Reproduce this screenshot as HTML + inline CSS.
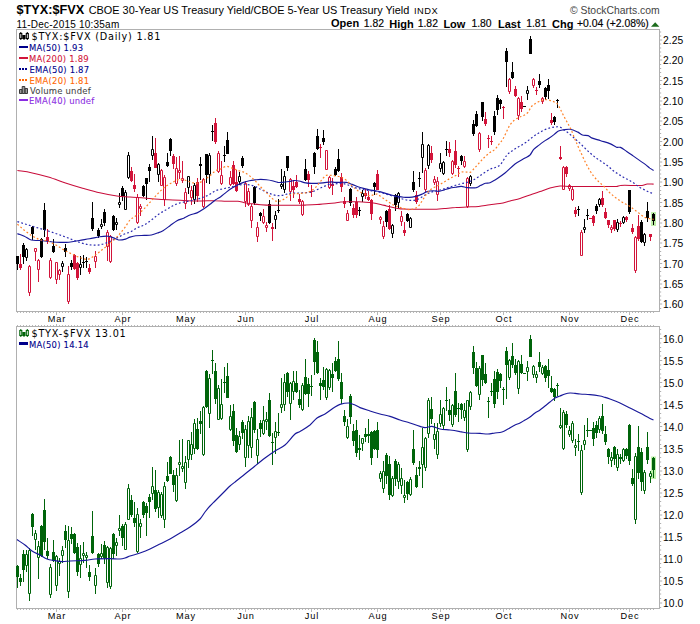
<!DOCTYPE html>
<html><head><meta charset="utf-8"><title>$TYX:$FVX</title>
<style>
html,body{margin:0;padding:0;background:#fff;}
body{width:700px;height:624px;position:relative;overflow:hidden;font-family:"Liberation Sans",sans-serif;color:#000;}
.t{position:absolute;white-space:nowrap;line-height:1;}
.ax{font-size:10.3px;letter-spacing:0.1px;}
.lg{font-family:"DejaVu Sans Condensed","DejaVu Sans",sans-serif;font-size:9.4px;letter-spacing:0.22px;-webkit-text-stroke:0.08px currentColor;}
.mono{font-family:"DejaVu Sans",sans-serif;font-size:9.7px;letter-spacing:0.77px;}
.mo{font-size:9.2px;letter-spacing:0.9px;}
</style></head><body>
<svg width="700" height="624" viewBox="0 0 700 624" style="position:absolute;left:0;top:0">
<rect x="16.5" y="29.5" width="643" height="282" fill="#fff" stroke="#b0b0b0" stroke-width="1"/>
<rect x="16.5" y="326.5" width="643" height="282" fill="#fff" stroke="#b0b0b0" stroke-width="1"/>
<path d="M660 308.5h1.2M660 304h2.2M660 300h1.2M660 296h1.2M660 292h1.2M660 288h1.2M660 284h2.2M660 280h1.2M660 276h1.2M660 271.5h1.2M660 267.5h1.2M660 263.5h2.2M660 259.5h1.2M660 255.5h1.2M660 251.5h1.2M660 247.5h1.2M660 243h2.2M660 239h1.2M660 235h1.2M660 231h1.2M660 227h1.2M660 223h2.2M660 219h1.2M660 215h1.2M660 210.5h1.2M660 206.5h1.2M660 202.5h2.2M660 198.5h1.2M660 194.5h1.2M660 190.5h1.2M660 186.5h1.2M660 182h2.2M660 178h1.2M660 174h1.2M660 170h1.2M660 166h1.2M660 162h2.2M660 158h1.2M660 154h1.2M660 149.5h1.2M660 145.5h1.2M660 141.5h2.2M660 137.5h1.2M660 133.5h1.2M660 129.5h1.2M660 125.5h1.2M660 121h2.2M660 117h1.2M660 113h1.2M660 109h1.2M660 105h1.2M660 101h2.2M660 97h1.2M660 93h1.2M660 88.5h1.2M660 84.5h1.2M660 80.5h2.2M660 76.5h1.2M660 72.5h1.2M660 68.5h1.2M660 64.5h1.2M660 60h2.2M660 56h1.2M660 52h1.2M660 48h1.2M660 44h1.2M660 40h2.2M660 36h1.2M660 32h1.2M660 607.5h1.2M660 603h2.2M660 598.5h1.2M660 594h1.2M660 590h1.2M660 585.5h1.2M660 581h2.2M660 576.5h1.2M660 572h1.2M660 567.5h1.2M660 563.5h1.2M660 559h2.2M660 554.5h1.2M660 550h1.2M660 545.5h1.2M660 541.5h1.2M660 537h2.2M660 532.5h1.2M660 528h1.2M660 523.5h1.2M660 519h1.2M660 515h2.2M660 510.5h1.2M660 506h1.2M660 501.5h1.2M660 497h1.2M660 493h2.2M660 488.5h1.2M660 484h1.2M660 479.5h1.2M660 475h1.2M660 471h2.2M660 466.5h1.2M660 462h1.2M660 457.5h1.2M660 453h1.2M660 448.5h2.2M660 444.5h1.2M660 440h1.2M660 435.5h1.2M660 431h1.2M660 426.5h2.2M660 422.5h1.2M660 418h1.2M660 413.5h1.2M660 409h1.2M660 404.5h2.2M660 400h1.2M660 396h1.2M660 391.5h1.2M660 387h1.2M660 382.5h2.2M660 378h1.2M660 374h1.2M660 369.5h1.2M660 365h1.2M660 360.5h2.2M660 356h1.2M660 351.5h1.2M660 347.5h1.2M660 343h1.2M660 338.5h2.2M660 334h1.2M660 329.5h1.2" stroke="#b0b0b0" stroke-width="1" fill="none"/>
<path d="M17.5 312v1M20.5 312v1M23.5 312v1M26.5 312v1M29.5 312v1M32.5 312v1M35.5 312v1M38.5 312v1M41.5 312v1M44.5 312v1M47.5 312v1M50.5 312v1M53.5 312v1M56.5 312v3M59.5 312v1M62.5 312v1M65.5 312v1M68.5 312v1M71.5 312v1M74.5 312v1M77.5 312v1M80.5 312v1M83.5 312v1M86.5 312v1M89.5 312v1M92.5 312v1M95.5 312v1M98.5 312v1M101.5 312v1M104.5 312v1M107.5 312v1M110.5 312v1M113.5 312v1M116.5 312v1M119.5 312v1M122.5 312v3M125.5 312v1M128.5 312v1M131.5 312v1M134.5 312v1M137.5 312v1M140.5 312v1M143.5 312v1M146.5 312v1M149.5 312v1M152.5 312v1M155.5 312v1M158.5 312v1M161.5 312v1M164.5 312v1M167.5 312v1M170.5 312v1M173.5 312v1M176.5 312v1M179.5 312v1M182.5 312v1M185.5 312v3M188.5 312v1M191.5 312v1M194.5 312v1M197.5 312v1M200.5 312v1M203.5 312v1M206.5 312v1M209.5 312v1M212.5 312v1M215.5 312v1M218.5 312v1M221.5 312v1M224.5 312v1M227.5 312v1M230.5 312v1M233.5 312v1M236.5 312v1M239.5 312v1M242.5 312v1M245.5 312v3M248.5 312v1M251.5 312v1M254.5 312v1M257.5 312v1M260.5 312v1M263.5 312v1M266.5 312v1M269.5 312v1M272.5 312v1M275.5 312v1M278.5 312v1M281.5 312v1M284.5 312v1M287.5 312v1M290.5 312v1M293.5 312v1M296.5 312v1M299.5 312v1M302.5 312v1M305.5 312v1M308.5 312v1M311.5 312v3M314.5 312v1M317.5 312v1M320.5 312v1M323.5 312v1M326.5 312v1M329.5 312v1M332.5 312v1M335.5 312v1M338.5 312v1M341.5 312v1M344.5 312v1M347.5 312v1M350.5 312v1M353.5 312v1M356.5 312v1M359.5 312v1M362.5 312v1M365.5 312v1M368.5 312v1M371.5 312v1M374.5 312v1M377.5 312v3M380.5 312v1M383.5 312v1M386.5 312v1M389.5 312v1M392.5 312v1M395.5 312v1M398.5 312v1M401.5 312v1M404.5 312v1M407.5 312v1M410.5 312v1M413.5 312v1M416.5 312v1M419.5 312v1M422.5 312v1M425.5 312v1M428.5 312v1M431.5 312v1M434.5 312v1M437.5 312v1M440.5 312v3M443.5 312v1M446.5 312v1M449.5 312v1M452.5 312v1M455.5 312v1M458.5 312v1M461.5 312v1M464.5 312v1M467.5 312v1M470.5 312v1M473.5 312v1M476.5 312v1M479.5 312v1M482.5 312v1M485.5 312v1M488.5 312v1M491.5 312v1M494.5 312v1M497.5 312v1M500.5 312v1M503.5 312v3M506.5 312v1M509.5 312v1M512.5 312v1M515.5 312v1M518.5 312v1M521.5 312v1M524.5 312v1M527.5 312v1M530.5 312v1M533.5 312v1M536.5 312v1M539.5 312v1M542.5 312v1M545.5 312v1M548.5 312v1M551.5 312v1M554.5 312v1M557.5 312v1M560.5 312v1M563.5 312v1M566.5 312v1M569.5 312v3M572.5 312v1M575.5 312v1M578.5 312v1M581.5 312v1M584.5 312v1M587.5 312v1M590.5 312v1M593.5 312v1M596.5 312v1M599.5 312v1M602.5 312v1M605.5 312v1M608.5 312v1M611.5 312v1M614.5 312v1M617.5 312v1M620.5 312v1M623.5 312v1M626.5 312v1M629.5 312v3M632.5 312v1M635.5 312v1M638.5 312v1M641.5 312v1M644.5 312v1M647.5 312v1M650.5 312v1M653.5 312v1M17.5 609v1M17.5 326v-1M20.5 609v1M20.5 326v-1M23.5 609v1M23.5 326v-1M26.5 609v1M26.5 326v-1M29.5 609v1M29.5 326v-1M32.5 609v1M32.5 326v-1M35.5 609v1M35.5 326v-1M38.5 609v1M38.5 326v-1M41.5 609v1M41.5 326v-1M44.5 609v1M44.5 326v-1M47.5 609v1M47.5 326v-1M50.5 609v1M50.5 326v-1M53.5 609v1M53.5 326v-1M56.5 609v3M56.5 326v-2M59.5 609v1M59.5 326v-1M62.5 609v1M62.5 326v-1M65.5 609v1M65.5 326v-1M68.5 609v1M68.5 326v-1M71.5 609v1M71.5 326v-1M74.5 609v1M74.5 326v-1M77.5 609v1M77.5 326v-1M80.5 609v1M80.5 326v-1M83.5 609v1M83.5 326v-1M86.5 609v1M86.5 326v-1M89.5 609v1M89.5 326v-1M92.5 609v1M92.5 326v-1M95.5 609v1M95.5 326v-1M98.5 609v1M98.5 326v-1M101.5 609v1M101.5 326v-1M104.5 609v1M104.5 326v-1M107.5 609v1M107.5 326v-1M110.5 609v1M110.5 326v-1M113.5 609v1M113.5 326v-1M116.5 609v1M116.5 326v-1M119.5 609v1M119.5 326v-1M122.5 609v3M122.5 326v-2M125.5 609v1M125.5 326v-1M128.5 609v1M128.5 326v-1M131.5 609v1M131.5 326v-1M134.5 609v1M134.5 326v-1M137.5 609v1M137.5 326v-1M140.5 609v1M140.5 326v-1M143.5 609v1M143.5 326v-1M146.5 609v1M146.5 326v-1M149.5 609v1M149.5 326v-1M152.5 609v1M152.5 326v-1M155.5 609v1M155.5 326v-1M158.5 609v1M158.5 326v-1M161.5 609v1M161.5 326v-1M164.5 609v1M164.5 326v-1M167.5 609v1M167.5 326v-1M170.5 609v1M170.5 326v-1M173.5 609v1M173.5 326v-1M176.5 609v1M176.5 326v-1M179.5 609v1M179.5 326v-1M182.5 609v1M182.5 326v-1M185.5 609v3M185.5 326v-2M188.5 609v1M188.5 326v-1M191.5 609v1M191.5 326v-1M194.5 609v1M194.5 326v-1M197.5 609v1M197.5 326v-1M200.5 609v1M200.5 326v-1M203.5 609v1M203.5 326v-1M206.5 609v1M206.5 326v-1M209.5 609v1M209.5 326v-1M212.5 609v1M212.5 326v-1M215.5 609v1M215.5 326v-1M218.5 609v1M218.5 326v-1M221.5 609v1M221.5 326v-1M224.5 609v1M224.5 326v-1M227.5 609v1M227.5 326v-1M230.5 609v1M230.5 326v-1M233.5 609v1M233.5 326v-1M236.5 609v1M236.5 326v-1M239.5 609v1M239.5 326v-1M242.5 609v1M242.5 326v-1M245.5 609v3M245.5 326v-2M248.5 609v1M248.5 326v-1M251.5 609v1M251.5 326v-1M254.5 609v1M254.5 326v-1M257.5 609v1M257.5 326v-1M260.5 609v1M260.5 326v-1M263.5 609v1M263.5 326v-1M266.5 609v1M266.5 326v-1M269.5 609v1M269.5 326v-1M272.5 609v1M272.5 326v-1M275.5 609v1M275.5 326v-1M278.5 609v1M278.5 326v-1M281.5 609v1M281.5 326v-1M284.5 609v1M284.5 326v-1M287.5 609v1M287.5 326v-1M290.5 609v1M290.5 326v-1M293.5 609v1M293.5 326v-1M296.5 609v1M296.5 326v-1M299.5 609v1M299.5 326v-1M302.5 609v1M302.5 326v-1M305.5 609v1M305.5 326v-1M308.5 609v1M308.5 326v-1M311.5 609v3M311.5 326v-2M314.5 609v1M314.5 326v-1M317.5 609v1M317.5 326v-1M320.5 609v1M320.5 326v-1M323.5 609v1M323.5 326v-1M326.5 609v1M326.5 326v-1M329.5 609v1M329.5 326v-1M332.5 609v1M332.5 326v-1M335.5 609v1M335.5 326v-1M338.5 609v1M338.5 326v-1M341.5 609v1M341.5 326v-1M344.5 609v1M344.5 326v-1M347.5 609v1M347.5 326v-1M350.5 609v1M350.5 326v-1M353.5 609v1M353.5 326v-1M356.5 609v1M356.5 326v-1M359.5 609v1M359.5 326v-1M362.5 609v1M362.5 326v-1M365.5 609v1M365.5 326v-1M368.5 609v1M368.5 326v-1M371.5 609v1M371.5 326v-1M374.5 609v1M374.5 326v-1M377.5 609v3M377.5 326v-2M380.5 609v1M380.5 326v-1M383.5 609v1M383.5 326v-1M386.5 609v1M386.5 326v-1M389.5 609v1M389.5 326v-1M392.5 609v1M392.5 326v-1M395.5 609v1M395.5 326v-1M398.5 609v1M398.5 326v-1M401.5 609v1M401.5 326v-1M404.5 609v1M404.5 326v-1M407.5 609v1M407.5 326v-1M410.5 609v1M410.5 326v-1M413.5 609v1M413.5 326v-1M416.5 609v1M416.5 326v-1M419.5 609v1M419.5 326v-1M422.5 609v1M422.5 326v-1M425.5 609v1M425.5 326v-1M428.5 609v1M428.5 326v-1M431.5 609v1M431.5 326v-1M434.5 609v1M434.5 326v-1M437.5 609v1M437.5 326v-1M440.5 609v3M440.5 326v-2M443.5 609v1M443.5 326v-1M446.5 609v1M446.5 326v-1M449.5 609v1M449.5 326v-1M452.5 609v1M452.5 326v-1M455.5 609v1M455.5 326v-1M458.5 609v1M458.5 326v-1M461.5 609v1M461.5 326v-1M464.5 609v1M464.5 326v-1M467.5 609v1M467.5 326v-1M470.5 609v1M470.5 326v-1M473.5 609v1M473.5 326v-1M476.5 609v1M476.5 326v-1M479.5 609v1M479.5 326v-1M482.5 609v1M482.5 326v-1M485.5 609v1M485.5 326v-1M488.5 609v1M488.5 326v-1M491.5 609v1M491.5 326v-1M494.5 609v1M494.5 326v-1M497.5 609v1M497.5 326v-1M500.5 609v1M500.5 326v-1M503.5 609v3M503.5 326v-2M506.5 609v1M506.5 326v-1M509.5 609v1M509.5 326v-1M512.5 609v1M512.5 326v-1M515.5 609v1M515.5 326v-1M518.5 609v1M518.5 326v-1M521.5 609v1M521.5 326v-1M524.5 609v1M524.5 326v-1M527.5 609v1M527.5 326v-1M530.5 609v1M530.5 326v-1M533.5 609v1M533.5 326v-1M536.5 609v1M536.5 326v-1M539.5 609v1M539.5 326v-1M542.5 609v1M542.5 326v-1M545.5 609v1M545.5 326v-1M548.5 609v1M548.5 326v-1M551.5 609v1M551.5 326v-1M554.5 609v1M554.5 326v-1M557.5 609v1M557.5 326v-1M560.5 609v1M560.5 326v-1M563.5 609v1M563.5 326v-1M566.5 609v1M566.5 326v-1M569.5 609v3M569.5 326v-2M572.5 609v1M572.5 326v-1M575.5 609v1M575.5 326v-1M578.5 609v1M578.5 326v-1M581.5 609v1M581.5 326v-1M584.5 609v1M584.5 326v-1M587.5 609v1M587.5 326v-1M590.5 609v1M590.5 326v-1M593.5 609v1M593.5 326v-1M596.5 609v1M596.5 326v-1M599.5 609v1M599.5 326v-1M602.5 609v1M602.5 326v-1M605.5 609v1M605.5 326v-1M608.5 609v1M608.5 326v-1M611.5 609v1M611.5 326v-1M614.5 609v1M614.5 326v-1M617.5 609v1M617.5 326v-1M620.5 609v1M620.5 326v-1M623.5 609v1M623.5 326v-1M626.5 609v1M626.5 326v-1M629.5 609v3M629.5 326v-2M632.5 609v1M632.5 326v-1M635.5 609v1M635.5 326v-1M638.5 609v1M638.5 326v-1M641.5 609v1M641.5 326v-1M644.5 609v1M644.5 326v-1M647.5 609v1M647.5 326v-1M650.5 609v1M650.5 326v-1M653.5 609v1M653.5 326v-1" stroke="#b0b0b0" stroke-width="1" fill="none" opacity="0.9"/>
<rect x="651" y="212" width="5" height="14" fill="#bff0aa"/>
<rect x="651" y="456.5" width="5" height="22.5" fill="#bff0aa"/>
<path d="M17.5 256V270M23.5 243V264M26.5 248V249M26.5 258V261M32.5 226V240M41.5 238V258M44.5 203V237M53.5 239V253M62.5 261V263M62.5 267V272M65.5 244V257M71.5 260V270M80.5 256V264M80.5 268V275M83.5 255V268M82 262.5H85M86.5 257V268M85 261.5H88M92.5 202V231M98.5 228V238M101.5 219V224M101.5 227V229M104.5 209V226M113.5 215V231M116.5 218V222M116.5 225V230M119.5 193V202M119.5 205V208M122.5 186V201M125.5 190V192M128.5 152V155M128.5 178V179M143.5 185V197M146.5 178V200M149.5 164V182M152.5 136V149M152.5 156V160M158.5 163V164M158.5 175V182M167.5 153V167M170.5 138V156M188.5 188V194M194.5 183V185M194.5 200V204M200.5 157V180M206.5 154V183M209.5 153V155M209.5 175V184M212.5 125V141M211 131.5H214M224.5 146V162M223 155.5H226M227.5 132V154M239.5 172V176M239.5 182V185M242.5 156V168M254.5 186V205M260.5 212V221M269.5 200V224M275.5 211V215M275.5 220V229M278.5 199V213M277 210.5H280M281.5 169V184M281.5 187V189M284.5 171V176M284.5 190V193M287.5 156V171M305.5 159V181M314.5 152V174M317.5 129V150M323.5 130V145M335.5 167V176M338.5 149V172M350.5 188V206M359.5 207V216M358 210.5H361M362.5 190V193M362.5 197V202M374.5 182V195M386.5 210V227M392.5 224V225M392.5 234V238M395.5 194V211M398.5 192V193M398.5 203V208M407.5 213V222M410.5 217V218M413.5 171V192M419.5 172V187M418 178.5H421M422.5 132V144M422.5 158V173M428.5 144V145M428.5 166V169M440.5 153V163M440.5 169V172M443.5 161V162M443.5 174V175M446.5 141V156M445 149.5H448M461.5 155V165M470.5 175V176M470.5 184V186M473.5 120V136M476.5 111V127M482.5 102V121M494.5 111V135M497.5 95V115M500.5 99V109M506.5 48V87M512.5 62V79M523 106.5H526M527.5 86V90M527.5 94V100M530.5 36V54M539.5 74V88M545.5 87V100M548.5 79V99M554.5 116V125M557.5 99V108M556 100.5H559M578.5 206V216M577 209.5H580M584.5 219V227M584.5 230V233M587.5 209V220M586 215.5H589M596.5 204V214M599.5 198V199M599.5 205V207M617.5 219V222M617.5 230V232M623.5 216V217M623.5 223V224M629.5 190V214M641.5 220V243M644.5 233V234M644.5 243V246M647.5 202V222M653.5 213V225" stroke="#000000" stroke-width="1" fill="none"/>
<path d="M16 256H19V264H16ZM22 245H25V257H22ZM31 227H34V234H31ZM40 239H43V257H40ZM43 210H46V230H43ZM52 246H55V252H52ZM64 248H67V252H64ZM70 263H73V267H70ZM91 218H94V229H91ZM97 230H100V236H97ZM103 212H106V223H103ZM112 216H115V230H112ZM121 188H124V196H121ZM142 186H145V196H142ZM145 178H148V184H145ZM148 167H151V171H148ZM166 162H169V166H166ZM169 139H172V151H169ZM199 164H202V166H199ZM205 154H208V175H205ZM226 140H229V154H226ZM241 158H244V166H241ZM253 187H256V203H253ZM259 213H262V216H259ZM268 204H271V223H268ZM286 156H289V168H286ZM304 169H307V180H304ZM313 153H316V167H313ZM316 136H319V149H316ZM322 138H325V142H322ZM334 169H337V175H334ZM337 159H340V171H337ZM349 189H352V203H349ZM373 183H376V187H373ZM385 211H388V222H385ZM394 195H397V205H394ZM406 214H409V221H406ZM412 182H415V190H412ZM460 156H463V161H460ZM472 124H475V134H472ZM475 114H478V126H475ZM481 102H484V117H481ZM493 116H496V132H493ZM496 98H499V110H496ZM499 100H502V104H499ZM505 51H508V62H505ZM511 72H514V78H511ZM529 39H532V54H529ZM538 81H541V85H538ZM544 88H547V97H544ZM547 85H550V91H547ZM553 117H556V122H553ZM595 206H598V211H595ZM628 190H631V212H628ZM640 222H643V242H640ZM646 211H649V218H646ZM652 214H655V221H652Z" fill="#000000" stroke="none"/>
<path d="M25.5 249.5H27.5V257.5H25.5ZM61.5 263.5H63.5V266.5H61.5ZM79.5 264.5H81.5V267.5H79.5ZM100.5 224.5H102.5V226.5H100.5ZM115.5 222.5H117.5V224.5H115.5ZM118.5 202.5H120.5V204.5H118.5ZM124.5 192.5H126.5V209.5H124.5ZM127.5 155.5H129.5V177.5H127.5ZM151.5 149.5H153.5V155.5H151.5ZM157.5 164.5H159.5V174.5H157.5ZM187.5 176.5H189.5V187.5H187.5ZM193.5 185.5H195.5V199.5H193.5ZM208.5 155.5H210.5V174.5H208.5ZM238.5 176.5H240.5V181.5H238.5ZM274.5 215.5H276.5V219.5H274.5ZM280.5 184.5H282.5V186.5H280.5ZM283.5 176.5H285.5V189.5H283.5ZM361.5 193.5H363.5V196.5H361.5ZM391.5 225.5H393.5V233.5H391.5ZM397.5 193.5H399.5V202.5H397.5ZM409.5 218.5H411.5V227.5H409.5ZM421.5 144.5H423.5V157.5H421.5ZM427.5 145.5H429.5V165.5H427.5ZM439.5 163.5H441.5V168.5H439.5ZM442.5 162.5H444.5V173.5H442.5ZM469.5 176.5H471.5V183.5H469.5ZM526.5 90.5H528.5V93.5H526.5ZM583.5 227.5H585.5V229.5H583.5ZM598.5 199.5H600.5V204.5H598.5ZM616.5 222.5H618.5V229.5H616.5ZM622.5 217.5H624.5V222.5H622.5ZM643.5 234.5H645.5V242.5H643.5Z" fill="#fff" stroke="#000000" stroke-width="1"/>
<path d="M20.5 254V270M29.5 265V266M29.5 293V296M35.5 252V261M38.5 259V260M38.5 270V282M47.5 229V244M50.5 258V260M50.5 278V279M56.5 280V284M59.5 269V270M59.5 275V280M68.5 266V274M68.5 302V304M74.5 254V270M77.5 262V280M89.5 264V274M95.5 251V256M95.5 262V268M107.5 230V232M107.5 247V261M110.5 235V236M110.5 262V263M131.5 167V182M134.5 174V192M137.5 194V197M137.5 223V224M140.5 204V206M140.5 209V216M155.5 138V168M161.5 169V170M164.5 175V177M164.5 200V206M173.5 154V169M176.5 157V168M176.5 184V186M179.5 156V170M179.5 173V179M182.5 161V178M182.5 181V183M185.5 188V192M185.5 204V209M191.5 186V190M191.5 198V205M197.5 178V202M203.5 178V179M203.5 207V208M215.5 118V144M218.5 151V153M218.5 172V173M221.5 161V175M221.5 184V185M230.5 171V177M230.5 185V186M233.5 161V185M236.5 170V192M245.5 181V183M245.5 202V207M248.5 188V191M248.5 205V206M251.5 204V206M251.5 221V228M257.5 222V227M257.5 237V242M263.5 209V216M263.5 223V224M266.5 222V225M266.5 228V232M272.5 223V241M290.5 178V179M290.5 192V201M293.5 180V198M296.5 175V188M299.5 194V204M302.5 200V201M302.5 215V216M308.5 171V187M311.5 185V197M310 191.5H313M320.5 144V158M319 147.5H322M329.5 176V177M329.5 188V189M332.5 178V195M341.5 173V192M344.5 197V208M347.5 210V213M353.5 204V218M356.5 197V218M365.5 189V199M368.5 191V201M371.5 199V220M377.5 170V190M380.5 216V217M380.5 220V224M383.5 221V226M383.5 237V239M389.5 205V230M401.5 211V216M401.5 222V226M404.5 222V236M416.5 191V204M425.5 168V170M425.5 190V192M431.5 146V163M434.5 176V179M434.5 183V185M437.5 177V181M437.5 195V201M449.5 142V157M452.5 160V161M452.5 174V175M455.5 140V168M458.5 166V177M457 168.5H460M464.5 156V161M464.5 167V168M467.5 177V178M467.5 207V208M479.5 132V133M479.5 150V152M485.5 112V126M488.5 135V148M487 138.5H490M491.5 136V145M490 141.5H493M503.5 106V119M502 107.5H505M509.5 78V79M509.5 92V94M515.5 86V97M518.5 97V98M518.5 116V120M521.5 96V112M533.5 78V79M533.5 86V88M536.5 87V95M535 90.5H538M542.5 97V98M542.5 102V104M551.5 113V125M560.5 146V160M563.5 166V167M566.5 166V177M569.5 184V185M569.5 189V191M572.5 187V189M572.5 200V201M575.5 207V217M581.5 230V232M589 218.5H592M593.5 215V226M602.5 191V207M605.5 208V219M608.5 220V228M611.5 225V227M611.5 230V233M614.5 220V231M620.5 221V227M619 223.5H622M626.5 216V222M632.5 224V234M635.5 236V237M635.5 271V273M638.5 215V241M650.5 234V241" stroke="#d2143a" stroke-width="1" fill="none"/>
<path d="M19 264H22V268H19ZM46 237H49V241H46ZM73 255H76V269H73ZM76 263H79V278H76ZM88 268H91V272H88ZM130 171H133V181H130ZM133 185H136V189H133ZM154 153H157V168H154ZM172 156H175V164H172ZM196 182H199V196H196ZM214 123H217V142H214ZM232 165H235V184H232ZM235 182H238V191H235ZM271 227H274V229H271ZM292 186H295V190H292ZM295 182H298V187H295ZM298 199H301V202H298ZM307 174H310V180H307ZM331 184H334V186H331ZM340 177H343V187H340ZM343 201H346V204H343ZM352 208H355V215H352ZM355 202H358V215H355ZM364 193H367V196H364ZM367 197H370V200H367ZM370 200H373V214H370ZM376 174H379V190H376ZM388 209H391V229H388ZM403 230H406V233H403ZM415 195H418V202H415ZM430 153H433V160H430ZM448 149H451V153H448ZM454 151H457V165H454ZM484 119H487V124H484ZM514 89H517V96H514ZM520 102H523V109H520ZM550 120H553V123H550ZM559 157H562V159H559ZM565 167H568V174H565ZM574 210H577V214H574ZM592 216H595V223H592ZM601 198H604V205H601ZM604 212H607V218H604ZM607 220H610V225H607ZM613 220H616V229H613ZM625 217H628V220H625ZM631 228H634V232H631ZM637 226H640V239H637ZM649 234H652V237H649Z" fill="#d2143a" stroke="none"/>
<path d="M28.5 266.5H30.5V292.5H28.5ZM34.5 248.5H36.5V251.5H34.5ZM37.5 260.5H39.5V269.5H37.5ZM49.5 260.5H51.5V277.5H49.5ZM55.5 262.5H57.5V279.5H55.5ZM58.5 270.5H60.5V274.5H58.5ZM67.5 274.5H69.5V301.5H67.5ZM94.5 256.5H96.5V261.5H94.5ZM106.5 232.5H108.5V246.5H106.5ZM109.5 236.5H111.5V261.5H109.5ZM136.5 197.5H138.5V222.5H136.5ZM139.5 206.5H141.5V208.5H139.5ZM160.5 170.5H162.5V185.5H160.5ZM163.5 177.5H165.5V199.5H163.5ZM175.5 168.5H177.5V183.5H175.5ZM178.5 170.5H180.5V172.5H178.5ZM181.5 178.5H183.5V180.5H181.5ZM184.5 192.5H186.5V203.5H184.5ZM190.5 190.5H192.5V197.5H190.5ZM202.5 179.5H204.5V206.5H202.5ZM217.5 153.5H219.5V171.5H217.5ZM220.5 175.5H222.5V183.5H220.5ZM229.5 177.5H231.5V184.5H229.5ZM244.5 183.5H246.5V201.5H244.5ZM247.5 191.5H249.5V204.5H247.5ZM250.5 206.5H252.5V220.5H250.5ZM256.5 227.5H258.5V236.5H256.5ZM262.5 216.5H264.5V222.5H262.5ZM265.5 225.5H267.5V227.5H265.5ZM289.5 179.5H291.5V191.5H289.5ZM301.5 201.5H303.5V214.5H301.5ZM325.5 150.5H327.5V169.5H325.5ZM328.5 177.5H330.5V187.5H328.5ZM346.5 213.5H348.5V220.5H346.5ZM379.5 217.5H381.5V219.5H379.5ZM382.5 226.5H384.5V236.5H382.5ZM400.5 216.5H402.5V221.5H400.5ZM424.5 170.5H426.5V189.5H424.5ZM433.5 179.5H435.5V182.5H433.5ZM436.5 181.5H438.5V194.5H436.5ZM451.5 161.5H453.5V173.5H451.5ZM463.5 161.5H465.5V166.5H463.5ZM466.5 178.5H468.5V206.5H466.5ZM478.5 133.5H480.5V149.5H478.5ZM508.5 79.5H510.5V91.5H508.5ZM517.5 98.5H519.5V115.5H517.5ZM532.5 79.5H534.5V85.5H532.5ZM541.5 98.5H543.5V101.5H541.5ZM562.5 167.5H564.5V189.5H562.5ZM568.5 185.5H570.5V188.5H568.5ZM571.5 189.5H573.5V199.5H571.5ZM580.5 232.5H582.5V255.5H580.5ZM610.5 227.5H612.5V229.5H610.5ZM634.5 237.5H636.5V270.5H634.5Z" fill="#fff" stroke="#d2143a" stroke-width="1"/>

<path d="M17.4 170.5C22.0 171.2 26.6 171.7 31.2 172.7C36.9 173.9 42.6 175.3 48.3 177C54.0 178.7 59.8 181.1 65.5 183C71.2 184.9 76.9 186.6 82.6 188.2C88.3 189.8 94.1 191.5 99.8 192.8C105.5 194.1 111.2 195.1 116.9 195.9C121.3 196.5 125.6 196.7 130 197.1C134.8 197.5 139.5 197.7 144.3 198.1C149.1 198.5 153.8 199.0 158.6 199.3C163.4 199.6 168.1 199.8 172.9 200C177.6 200.2 182.4 200.5 187.1 200.7C191.9 200.9 196.6 201.0 201.4 201C205.9 201.0 210.5 200.6 215 200.7C218.8 200.7 222.6 201.2 226.4 201.3C230.2 201.4 234.1 201.1 237.9 201.3C239.8 201.4 241.7 202.0 243.6 202.4C245.5 202.8 247.4 203.3 249.3 203.6C253.1 204.1 256.9 204.4 260.7 204.7C264.5 205.0 268.3 205.2 272.1 205.3C279.7 205.4 287.4 205.3 295 205.3C298.6 205.3 302.1 205.2 305.7 205.1C309.5 205.0 313.2 204.9 317 204.6C320.9 204.3 324.7 203.7 328.6 203.4C330.7 203.2 332.9 203.2 335 203C336.9 202.8 338.8 202.3 340.7 202.1C342.6 201.9 344.5 201.8 346.4 201.8C350.2 201.7 354.1 201.7 357.9 201.8C361.7 201.9 365.5 202.2 369.3 202.5C371.2 202.7 373.1 203.0 375 203.3C376.9 203.6 378.8 204.0 380.7 204.4C382.6 204.8 384.5 205.4 386.4 205.9C388.3 206.4 390.2 206.9 392.1 207.3C394.0 207.7 396.0 208.1 397.9 208.4C399.8 208.7 401.7 208.9 403.6 209C407.4 209.2 411.2 209.2 415 209.2C421.0 209.3 426.9 209.4 432.9 209.3C436.7 209.2 440.5 208.8 444.3 208.5C448.1 208.2 451.9 207.8 455.7 207.6C459.5 207.3 463.3 207.2 467.1 207C470.9 206.8 474.8 206.8 478.6 206.4C482.4 206.0 486.2 205.2 490 204.7C493.3 204.3 496.7 204.2 500 203.6C503.3 203.0 506.7 201.9 510 201C513.3 200.1 516.7 199.4 520 198.4C523.3 197.4 526.7 196.1 530 195C533.3 193.9 536.7 192.8 540 191.6C543.3 190.4 546.7 188.9 550 188C553.3 187.1 556.7 186.3 560 186C563.3 185.7 566.7 186.4 570 186.4C585.5 186.5 601.0 186.7 616.5 186.4C617.8 186.4 619.0 185.4 620.3 185.4C627.5 185.1 634.8 185.7 642 185.4C643.7 185.3 645.5 184.3 647.2 184.1C649.3 183.9 651.5 184.1 653.6 184.1" fill="none" stroke="#c80c3a" stroke-width="1.05"/>
<path d="M17.4 233.6C19.7 234.5 22.0 235.1 24.3 236.2C26.6 237.3 28.9 239.4 31.2 240C34.0 240.8 36.9 240.3 39.7 240.5C45.4 241.0 51.2 241.9 56.9 242.2C60.9 242.4 64.9 242.5 68.9 242.2C72.3 241.9 75.8 241.1 79.2 240.5C82.6 239.9 86.1 239.4 89.5 238.8C92.9 238.2 96.4 237.2 99.8 236.7C102.6 236.3 105.5 236.0 108.3 236.2C110.0 236.4 111.8 237.3 113.5 237.9C115.2 238.5 116.9 239.8 118.6 240C120.9 240.2 123.2 239.7 125.5 239.1C127.0 238.7 128.5 237.6 130 237.1C131.9 236.5 133.8 235.9 135.7 235.7C138.6 235.4 141.4 235.5 144.3 235.4C146.7 235.3 149.0 235.5 151.4 235C153.8 234.5 156.2 233.5 158.6 232.6C160.1 232.1 161.5 231.6 163 230.7C165.3 229.3 167.7 227.4 170 225.7C172.3 224.0 174.7 222.0 177 220.7C179.4 219.4 181.9 219.0 184.3 217.9C186.2 217.1 188.1 215.7 190 215C192.3 214.1 194.7 213.9 197 212.9C199.4 211.8 201.9 210.2 204.3 208.6C206.2 207.3 208.1 205.8 210 204.3C211.9 202.8 213.8 201.1 215.7 199.8C217.4 198.6 219.0 197.9 220.7 196.7C222.6 195.3 224.5 193.5 226.4 192.1C228.3 190.7 230.2 189.3 232.1 188.1C234.0 186.9 236.0 185.7 237.9 184.7C239.8 183.8 241.7 183.1 243.6 182.4C245.5 181.7 247.4 181.1 249.3 180.7C251.2 180.3 253.1 180.1 255 179.9C256.9 179.7 258.8 179.4 260.7 179.4C262.6 179.4 264.5 179.6 266.4 179.8C268.3 180.0 270.2 180.3 272.1 180.7C274.0 181.1 276.0 182.1 277.9 182.4C279.8 182.6 281.7 182.3 283.6 182.2C285.5 182.0 287.4 181.8 289.3 181.5C291.0 181.2 292.6 180.6 294.3 180.5C295.9 180.4 297.4 180.7 299 181C301.2 181.5 303.5 182.5 305.7 182.9C307.6 183.3 309.5 183.4 311.4 183.4C315.3 183.4 319.1 183.2 323 182.9C325.7 182.7 328.3 182.0 331 181.9C332.3 181.8 333.7 182.4 335 182.4C338.8 182.5 342.6 182.0 346.4 182.4C348.3 182.6 350.2 183.7 352.1 184.4C354.0 185.1 356.0 186.0 357.9 186.7C359.8 187.4 361.7 187.9 363.6 188.4C365.5 188.9 367.4 189.5 369.3 189.9C371.2 190.3 373.1 190.4 375 190.7C376.9 191.0 378.8 191.4 380.7 191.9C382.6 192.4 384.5 193.0 386.4 193.6C388.3 194.2 390.2 194.8 392.1 195.3C394.0 195.8 396.0 196.1 397.9 196.4C399.8 196.7 401.7 197.0 403.6 197.2C405.5 197.4 407.4 197.5 409.3 197.4C411.4 197.3 413.6 196.9 415.7 196.4C417.6 195.9 419.5 195.2 421.4 194.4C423.3 193.6 425.2 192.2 427.1 191.6C429.0 191.0 431.0 190.7 432.9 190.7C434.8 190.7 436.7 191.5 438.6 191.4C440.5 191.3 442.4 190.5 444.3 189.9C446.2 189.3 448.1 188.6 450 188.1C451.9 187.6 453.8 187.5 455.7 187.2C457.6 186.9 459.5 186.3 461.4 186.4C463.3 186.5 465.2 187.4 467.1 187.6C470.2 187.8 473.2 188.1 476.3 187.6C477.8 187.3 479.4 186.0 480.9 185.3C482.4 184.6 483.9 183.7 485.4 183.3C486.9 182.9 488.5 183.3 490 182.8C491.7 182.2 493.3 181.1 495 180C498.3 177.8 501.7 175.7 505 173C508.3 170.3 511.7 166.5 515 164C518.3 161.5 521.7 160.0 525 158C526.7 157.0 528.3 156.6 530 155C531.2 153.8 532.5 150.7 533.7 149.4C535.6 147.4 537.5 146.4 539.4 144.9C540.9 143.7 542.5 142.5 544 141.4C545.5 140.3 547.1 139.6 548.6 138.6C550.5 137.3 552.4 135.9 554.3 134.4C555.7 133.3 557.0 131.7 558.4 131C559.9 130.2 561.5 130.1 563 129.9C565.3 129.6 567.6 129.0 569.9 129.3C572.6 129.7 575.2 130.9 577.9 132.1C579.4 132.8 580.9 134.5 582.4 135C584.3 135.7 586.2 135.0 588.1 135.6C589.3 136.0 590.4 137.4 591.6 137.9C594.6 139.1 597.7 139.7 600.7 140.7C604.1 141.8 607.6 142.7 611 144.1C612.8 144.9 614.7 146.6 616.5 147.2C617.8 147.7 619.2 146.9 620.5 147.4C622.6 148.3 624.6 150.0 626.7 151.4C628.8 152.8 631.0 154.4 633.1 155.9C635.2 157.4 637.4 158.9 639.5 160.4C641.6 161.9 643.8 163.3 645.9 164.9C647.2 165.9 648.5 167.1 649.8 168.1C651.1 169.0 652.3 169.8 653.6 170.6" fill="none" stroke="#18189a" stroke-width="1.15"/>
<path d="M17.4 221.6C22.0 223.0 26.6 224.5 31.2 225.9C36.9 227.6 42.6 229.2 48.3 231C54.0 232.9 59.8 234.9 65.5 237C70.1 238.7 74.6 240.7 79.2 242.2C82.6 243.3 86.1 244.4 89.5 244.8C92.9 245.2 96.4 245.3 99.8 244.8C102.6 244.4 105.5 243.3 108.3 242.2C111.2 241.0 114.0 239.3 116.9 237.9C119.8 236.5 122.6 234.9 125.5 233.6C127.0 232.9 128.5 232.8 130 232.1C132.3 230.9 134.7 229.1 137 227.9C139.4 226.7 141.9 226.3 144.3 225C146.7 223.7 149.0 221.8 151.4 220C153.8 218.2 156.2 216.0 158.6 214.3C161.0 212.6 163.3 211.4 165.7 210C168.1 208.5 170.6 206.9 173 205.7C175.3 204.5 177.7 203.6 180 202.9C182.3 202.2 184.7 201.9 187 201.4C189.4 200.9 191.9 200.6 194.3 200C196.7 199.4 199.0 198.7 201.4 197.9C203.8 197.1 206.2 196.2 208.6 195C210.7 193.9 212.9 191.9 215 190.9C216.9 190.0 218.8 189.8 220.7 189.3C222.6 188.8 224.5 188.5 226.4 188.1C228.3 187.7 230.2 187.3 232.1 186.8C234.0 186.3 236.0 185.7 237.9 185.3C239.8 184.9 241.7 184.6 243.6 184.5C245.5 184.4 247.4 184.6 249.3 184.9C251.2 185.2 253.1 185.7 255 186.4C256.9 187.1 258.8 188.4 260.7 189.3C262.6 190.2 264.5 191.2 266.4 192.1C268.3 192.9 270.2 193.8 272.1 194.4C274.0 195.0 276.0 195.5 277.9 195.6C279.8 195.7 281.7 195.4 283.6 195C285.5 194.6 287.4 193.6 289.3 193.3C291.7 192.9 294.2 193.2 296.6 193.1C299.6 193.0 302.7 192.8 305.7 192.6C307.6 192.5 309.5 192.5 311.4 192C313.3 191.5 315.1 190.5 317 189.7C319.0 188.8 321.0 187.8 323 186.9C324.9 186.1 326.7 185.1 328.6 184.6C330.7 184.1 332.9 184.1 335 183.9C336.9 183.7 338.8 183.2 340.7 183.3C342.6 183.4 344.5 183.8 346.4 184.4C348.3 185.0 350.2 186.0 352.1 186.7C354.0 187.4 356.0 187.9 357.9 188.4C359.8 188.9 361.7 189.2 363.6 189.6C365.5 190.0 367.4 190.4 369.3 190.7C371.2 190.9 373.1 190.8 375 191.1C376.9 191.4 378.8 191.9 380.7 192.4C382.6 192.9 384.5 193.5 386.4 194.1C388.3 194.7 390.2 195.3 392.1 195.9C394.0 196.5 396.0 197.0 397.9 197.6C399.8 198.2 401.7 198.8 403.6 199.3C405.5 199.8 407.4 200.3 409.3 200.4C411.4 200.5 413.6 200.6 415.7 200.1C417.6 199.6 419.5 198.3 421.4 197.3C423.3 196.3 425.2 194.8 427.1 193.9C429.0 192.9 431.0 192.2 432.9 191.6C434.8 191.0 436.7 190.9 438.6 190.4C440.5 189.9 442.4 189.3 444.3 188.7C446.2 188.1 448.1 187.6 450 187C451.9 186.4 453.8 185.9 455.7 185.3C457.6 184.7 459.5 184.1 461.4 183.6C463.3 183.1 465.2 183.0 467.1 182.4C469.0 181.8 471.0 181.1 472.9 180.1C474.8 179.2 476.7 177.9 478.6 176.7C480.5 175.5 482.4 173.9 484.3 172.7C486.2 171.5 488.1 170.2 490 169.3C493.3 167.7 496.7 167.8 500 165C502.3 163.0 504.7 157.5 507 155C509.4 152.3 511.9 151.1 514.3 149.4C516.2 148.1 518.1 147.1 520 146C521.9 144.9 523.8 143.9 525.7 142.6C527.6 141.3 529.5 139.4 531.4 138C533.3 136.6 535.2 135.2 537.1 134C539.0 132.8 541.0 131.6 542.9 130.6C544.8 129.7 546.7 128.9 548.6 128.3C550.5 127.7 552.4 127.3 554.3 127.1C556.1 126.9 557.8 126.5 559.6 127C561.1 127.4 562.6 128.9 564.1 129.9C565.6 131.0 567.2 132.1 568.7 133.3C570.2 134.5 571.8 136.0 573.3 137.3C574.8 138.6 576.4 139.9 577.9 141.3C579.6 142.9 581.4 144.6 583.1 146.3C584.8 148.0 586.6 149.8 588.3 151.4C590.0 153.0 591.7 154.5 593.4 155.9C595.1 157.3 596.8 158.5 598.5 159.7C600.2 160.9 601.9 161.7 603.6 162.9C605.3 164.1 607.1 165.4 608.8 166.8C610.5 168.2 612.2 170.0 613.9 171.3C615.6 172.6 617.3 173.4 619 174.5C620.7 175.6 622.5 176.7 624.2 177.7C625.9 178.7 627.6 179.3 629.3 180.3C631.0 181.3 632.7 182.3 634.4 183.5C636.1 184.7 637.8 186.2 639.5 187.3C641.2 188.4 643.0 189.0 644.7 189.9C646.4 190.7 648.1 191.7 649.8 192.4C651.1 192.9 652.3 193.3 653.6 193.7" fill="none" stroke="#2a2ab0" stroke-width="1.2" stroke-dasharray="1.8 2.2"/>
<path d="M17.4 224.2C19.7 226.2 22.0 228.3 24.3 230.2C26.6 232.0 28.9 233.9 31.2 235.3C34.0 237.0 36.9 238.6 39.7 239.6C42.6 240.6 45.4 240.3 48.3 241.3C51.2 242.3 54.0 244.0 56.9 245.6C59.8 247.2 62.6 249.2 65.5 250.8C68.3 252.4 71.2 253.7 74 255C76.9 256.3 79.7 257.6 82.6 258.5C84.3 259.0 86.1 259.6 87.8 259.3C89.5 259.0 91.2 257.9 92.9 256.8C95.2 255.3 97.5 253.4 99.8 251.6C102.6 249.4 105.5 247.2 108.3 244.8C111.2 242.4 114.0 240.0 116.9 237C119.8 234.0 122.6 230.4 125.5 226.7C127.0 224.8 128.5 221.5 130 220C132.3 217.6 134.7 216.9 137 215C139.4 213.1 141.9 211.0 144.3 208.6C146.7 206.2 149.0 203.3 151.4 200.7C153.8 198.1 156.2 195.3 158.6 192.9C161.0 190.5 163.3 188.2 165.7 186.4C168.1 184.6 170.6 183.3 173 182.1C175.3 180.9 177.7 179.5 180 179.3C182.3 179.1 184.7 180.1 187 180.7C189.0 181.3 191.0 182.5 193 182.9C194.9 183.3 196.7 183.4 198.6 182.9C200.5 182.4 202.4 181.2 204.3 180C206.2 178.8 208.1 177.2 210 175.7C211.9 174.1 213.8 171.9 215.7 170.7C217.4 169.6 219.0 169.6 220.7 168.9C222.6 168.1 224.5 166.5 226.4 166.4C228.3 166.3 230.2 167.4 232.1 168.1C234.0 168.8 236.0 169.7 237.9 170.4C239.8 171.1 241.7 171.2 243.6 172.1C245.5 173.0 247.4 174.2 249.3 175.6C251.2 177.0 253.1 178.8 255 180.7C256.9 182.6 258.8 185.0 260.7 187C262.6 189.0 264.5 190.8 266.4 192.7C268.3 194.6 270.2 196.8 272.1 198.4C273.6 199.7 275.2 200.9 276.7 201.3C278.2 201.7 279.8 201.3 281.3 200.7C282.8 200.1 284.4 199.0 285.9 197.9C287.4 196.9 288.9 194.9 290.4 194.4C292.8 193.5 295.3 193.9 297.7 193.7C299.6 193.5 301.5 193.4 303.4 193.1C305.7 192.7 308.0 192.4 310.3 191.4C311.9 190.7 313.4 189.5 315 188C316.5 186.6 317.9 184.7 319.4 182.9C320.6 181.4 321.8 179.6 323 178.3C324.1 177.1 325.2 175.8 326.3 175.4C327.9 174.8 329.4 175.3 331 175.4C332.3 175.5 333.7 175.7 335 175.9C336.9 176.2 338.8 176.2 340.7 177C342.6 177.8 344.5 178.9 346.4 180.4C348.3 181.9 350.2 184.4 352.1 186.1C354.0 187.8 356.0 189.4 357.9 190.7C359.8 191.9 361.7 192.8 363.6 193.6C365.5 194.4 367.4 195.4 369.3 195.6C370.8 195.8 372.4 195.0 373.9 194.7C375.0 194.5 376.2 193.8 377.3 194.1C378.4 194.4 379.6 195.6 380.7 196.4C382.6 197.7 384.5 199.1 386.4 200.4C388.3 201.7 390.2 203.4 392.1 204.4C394.0 205.5 396.0 206.0 397.9 206.7C399.8 207.4 401.7 207.9 403.6 208.4C405.5 208.9 407.4 209.6 409.3 209.6C411.4 209.5 413.6 209.0 415.7 208.1C416.8 207.6 418.0 206.7 419.1 205.3C420.6 203.4 422.2 200.7 423.7 198.4C425.2 196.1 426.8 193.3 428.3 191.6C429.8 189.9 431.4 189.0 432.9 188.1C434.8 186.9 436.7 186.3 438.6 185.3C440.5 184.3 442.4 183.1 444.3 181.9C446.2 180.8 448.1 179.5 450 178.4C451.9 177.3 453.8 176.7 455.7 175.6C457.6 174.5 459.5 172.7 461.4 172.1C463.3 171.5 465.2 172.1 467.1 172.1C468.3 172.1 469.4 172.7 470.6 172.1C471.7 171.5 472.9 169.9 474 168.7C475.5 167.1 477.1 165.3 478.6 163.6C480.5 161.5 482.4 159.3 484.3 157.5C486.2 155.7 488.1 154.0 490 152.5C491.6 151.3 493.3 150.9 494.9 149.4C496.4 148.0 497.9 145.6 499.4 143.7C500.6 142.2 501.7 141.0 502.9 139.1C504.0 137.2 505.2 134.6 506.3 132.3C507.4 130.0 508.6 127.1 509.7 125.4C511.2 123.1 512.8 121.6 514.3 120.3C515.8 119.0 517.4 118.2 518.9 117.4C520.4 116.6 521.9 116.5 523.4 115.7C524.9 114.8 526.5 114.0 528 112.3C529.1 111.0 530.3 107.9 531.4 106.6C532.9 104.8 534.5 104.0 536 103.1C537.5 102.1 539.1 101.5 540.6 100.9C542.1 100.3 543.6 99.8 545.1 99.7C546.6 99.6 548.2 99.9 549.7 100.3C551.2 100.7 552.8 101.3 554.3 102C555.3 102.5 556.3 102.6 557.3 103.8C558.4 105.2 559.6 107.7 560.7 109.9C561.8 112.0 563.0 114.5 564.1 116.7C565.3 118.9 566.4 120.9 567.6 123C568.7 125.1 569.9 126.8 571 129.3C572.1 131.8 573.3 135.1 574.4 137.9C575.6 140.8 576.8 143.6 578 146.3C579.3 149.2 580.5 151.9 581.8 154.6C583.1 157.4 584.4 160.3 585.7 162.9C587.0 165.4 588.2 167.9 589.5 170C590.8 172.2 592.1 174.1 593.4 175.8C595.1 178.0 596.8 179.8 598.5 181.5C600.2 183.2 601.9 184.3 603.6 186C605.3 187.7 607.1 190.1 608.8 191.8C610.5 193.5 612.2 194.9 613.9 196.3C615.6 197.7 617.3 198.9 619 200.1C620.7 201.3 622.5 202.3 624.2 203.3C625.9 204.3 627.6 204.8 629.3 205.9C631.0 207.0 632.7 208.4 634.4 209.7C636.1 211.0 637.8 212.3 639.5 213.6C641.2 214.9 643.0 216.5 644.7 217.4C646.4 218.2 648.1 218.3 649.8 218.7C651.1 219.0 652.3 219.2 653.6 219.4" fill="none" stroke="#ff7f24" stroke-width="1.2" stroke-dasharray="1.8 2.2"/>
<path d="M17.5 565V588M20.5 574V586M23.5 550V582M26.5 550V554M26.5 566V572M29.5 548V550M29.5 594V601M32.5 513V536M35.5 530V533M35.5 540V550M38.5 541V546M38.5 558V579M41.5 525V557M44.5 499V550M47.5 538V559M50.5 564V567M50.5 595V598M53.5 540V562M56.5 555V556M56.5 586V591M59.5 558V561M59.5 564V576M62.5 546V550M62.5 556V563M65.5 525V548M68.5 526V540M68.5 592V598M71.5 527V544M74.5 533V554M77.5 543V576M80.5 545V558M80.5 565V578M83.5 542V553M83.5 556V563M86.5 552V555M86.5 558V568M89.5 565V581M92.5 511V554M95.5 568V575M95.5 586V594M98.5 553V567M101.5 544V553M101.5 557V559M104.5 541V564M107.5 546V547M107.5 583V588M110.5 547V548M110.5 587V589M113.5 533V559M116.5 538V542M116.5 546V556M119.5 515V528M119.5 531V536M122.5 524V546M125.5 522V524M128.5 484V488M131.5 495V517M134.5 502V527M137.5 508V514M137.5 552V553M140.5 519V523M140.5 527V538M143.5 501V518M146.5 503V536M149.5 494V518M152.5 467V486M152.5 494V500M155.5 470V512M158.5 490V492M158.5 508V518M161.5 492V494M161.5 516V518M164.5 482V486M164.5 520V528M167.5 462V482M170.5 456V474M173.5 470V492M176.5 468V475M176.5 501V502M179.5 440V462M179.5 465V476M182.5 439V466M182.5 469V472M185.5 456V462M185.5 483V489M188.5 460V468M191.5 432V444M191.5 455V460M194.5 419V423M194.5 449V454M197.5 418V450M200.5 411V434M203.5 406V407M203.5 455V456M206.5 370V408M209.5 374V378M209.5 414V428M212.5 350V374M211 360.5H214M215.5 363V404M218.5 385V388M221.5 379V404M221.5 419V420M224.5 367V393M223 382.5H226M227.5 363V398M230.5 405V416M230.5 430V431M233.5 404V446M236.5 428V453M239.5 431V436M239.5 445V450M242.5 420V439M245.5 425V429M245.5 458V467M248.5 416V421M248.5 446V458M251.5 408V417M251.5 448V458M254.5 401V433M257.5 429V439M257.5 456V464M260.5 420V437M263.5 406V420M263.5 434V435M266.5 412V419M266.5 422V430M269.5 393V437M272.5 433V465M271 442.5H274M275.5 422V431M275.5 438V454M278.5 413V436M277 432.5H280M281.5 378V404M281.5 408V413M284.5 374V382M284.5 405V411M287.5 372V397M290.5 382V383M290.5 404V420M293.5 371V381M293.5 392V400M296.5 371V393M299.5 390V408M302.5 383V385M302.5 410V411M305.5 359V395M308.5 378V407M311.5 375V396M310 386.5H313M314.5 338V375M317.5 341V374M320.5 378V400M323.5 367V390M326.5 368V369M326.5 398V400M329.5 369V370M329.5 388V390M332.5 363V392M335.5 357V372M338.5 341V381M341.5 373V404M344.5 410V426M347.5 419V426M347.5 438V439M350.5 394V424M353.5 424V446M356.5 420V457M359.5 435V460M362.5 444V451M365.5 428V442M368.5 419V443M371.5 431V465M374.5 430V450M377.5 422V458M380.5 471V473M380.5 479V482M383.5 461V471M383.5 489V493M386.5 453V484M389.5 456V500M392.5 476V478M392.5 496V497M395.5 459V486M398.5 462V464M398.5 482V489M401.5 468V478M401.5 486V494M404.5 480V495M404.5 498V503M407.5 481V500M410.5 477V479M410.5 495V496M413.5 430V465M416.5 467V488M419.5 461V476M422.5 428V447M422.5 465V488M425.5 437V438M425.5 468V471M428.5 398V400M428.5 434V438M431.5 397V424M434.5 423V434M434.5 440V449M437.5 423V431M437.5 455V459M440.5 400V414M440.5 424V427M443.5 407V408M443.5 426V429M446.5 387V411M445 400.5H448M449.5 399V421M452.5 404V405M452.5 425V427M455.5 373V417M458.5 403V422M457 408.5H460M461.5 403V419M464.5 403V410M464.5 418V421M467.5 450V452M470.5 391V392M470.5 407V410M473.5 346V374M476.5 362V387M479.5 366V368M479.5 395V400M482.5 355V386M485.5 363V384M488.5 397V418M487 401.5H490M491.5 383V396M490 391.5H493M494.5 371V408M497.5 369V399M500.5 373V388M503.5 387V405M502 389.5H505M506.5 347V399M509.5 359V360M509.5 378V380M512.5 343V368M515.5 359V375M518.5 360V361M518.5 389V394M521.5 355V374M523 373.5H526M527.5 361V367M527.5 372V381M530.5 335V357M533.5 365V366M533.5 375V378M536.5 371V374M536.5 378V383M539.5 352V372M542.5 365V367M542.5 374V375M545.5 365V382M548.5 359V388M551.5 376V393M554.5 388V401M557.5 383V396M556 385.5H559M560.5 408V425M560.5 428V429M563.5 410V412M563.5 449V450M566.5 411V428M569.5 426V430M569.5 435V437M572.5 421V423M572.5 441V443M575.5 439V445M575.5 448V456M578.5 434V451M577 441.5H580M581.5 445V450M581.5 493V495M584.5 425V440M584.5 445V450M587.5 418V437M586 430.5H589M589 430.5H592M593.5 422V446M596.5 421V438M599.5 416V418M599.5 430V433M602.5 404V434M605.5 426V445M608.5 448V464M611.5 452V457M611.5 461V467M614.5 446V465M617.5 449V454M617.5 468V471M620.5 454V464M623.5 448V449M623.5 461V462M626.5 448V459M629.5 424V465M632.5 469V486M635.5 453V456M635.5 520V524M638.5 426V479M641.5 448V491M644.5 470V472M644.5 491V494M647.5 432V464M650.5 471V473M650.5 477V483M653.5 457V478" stroke="#00640a" stroke-width="1" fill="none"/>
<path d="M16 566H19V577H16ZM19 578H22V582H19ZM22 554H25V570H22ZM31 514H34V527H31ZM40 526H43V556H40ZM43 510H46V542H43ZM46 551H49V556H46ZM52 552H55V561H52ZM64 531H67V540H64ZM70 534H73V539H70ZM73 534H76V553H73ZM76 547H79V572H76ZM88 572H91V577H88ZM91 536H94V553H91ZM97 554H100V564H97ZM103 545H106V558H103ZM112 534H115V554H112ZM121 526H124V538H121ZM130 500H133V515H130ZM133 518H136V523H133ZM142 502H145V515H142ZM145 506H148V513H145ZM148 497H151V502H148ZM154 490H157V509H154ZM166 476H169V481H166ZM169 457H172V474H169ZM172 475H175V485H172ZM196 429H199V449H196ZM199 421H202V424H199ZM205 371H208V407H205ZM214 371H217V399H214ZM226 376H229V398H226ZM232 411H235V441H232ZM235 435H238V452H235ZM241 422H244V433H241ZM253 402H256V430H253ZM259 423H262V429H259ZM268 400H271V436H268ZM286 373H289V392H286ZM295 383H298V392H295ZM298 399H301V405H298ZM304 377H307V394H304ZM307 384H310V394H307ZM313 340H316V362H313ZM316 352H319V373H316ZM319 383H322V386H319ZM322 380H325V387H322ZM331 374H334V378H331ZM334 361H337V371H334ZM337 359H340V379H337ZM340 382H343V399H340ZM343 416H346V422H343ZM349 396H352V417H349ZM352 431H355V441H352ZM355 430H358V453H355ZM358 448H361V450H358ZM364 434H367V437H364ZM367 434H370V436H367ZM370 432H373V458H370ZM373 431H376V449H373ZM376 430H379V450H376ZM385 455H388V476H385ZM388 464H391V495H388ZM394 461H397V479H394ZM406 482H409V494H406ZM412 449H415V463H412ZM415 475H418V487H415ZM418 467H421V469H418ZM430 409H433V419H430ZM448 410H451V415H448ZM454 391H457V415H454ZM460 404H463V410H460ZM472 352H475V368H472ZM475 368H478V386H475ZM481 355H484V380H481ZM484 374H487V383H484ZM493 379H496V404H493ZM496 372H499V392H496ZM499 374H502V381H499ZM505 351H508V365H505ZM511 356H514V365H511ZM514 365H517V373H514ZM520 364H523V373H520ZM529 339H532V357H529ZM538 362H541V367H538ZM544 366H547V378H544ZM547 370H550V376H547ZM550 388H553V392H550ZM553 389H556V397H553ZM565 414H568V425H565ZM592 428H595V439H592ZM595 425H598V433H595ZM601 416H604V431H601ZM604 434H607V442H604ZM607 449H610V457H607ZM613 447H616V459H613ZM619 457H622V459H619ZM625 449H628V456H625ZM628 425H631V461H628ZM631 478H634V484H631ZM637 447H640V473H637ZM640 452H643V482H640ZM646 447H649V460H646ZM652 458H655V470H652Z" fill="#00640a" stroke="none"/>
<path d="M25.5 554.5H27.5V565.5H25.5ZM28.5 550.5H30.5V593.5H28.5ZM34.5 533.5H36.5V539.5H34.5ZM37.5 546.5H39.5V557.5H37.5ZM49.5 567.5H51.5V594.5H49.5ZM55.5 556.5H57.5V585.5H55.5ZM58.5 561.5H60.5V563.5H58.5ZM61.5 550.5H63.5V555.5H61.5ZM67.5 540.5H69.5V591.5H67.5ZM79.5 558.5H81.5V564.5H79.5ZM82.5 553.5H84.5V555.5H82.5ZM85.5 555.5H87.5V557.5H85.5ZM94.5 575.5H96.5V585.5H94.5ZM100.5 553.5H102.5V556.5H100.5ZM106.5 547.5H108.5V582.5H106.5ZM109.5 548.5H111.5V586.5H109.5ZM115.5 542.5H117.5V545.5H115.5ZM118.5 528.5H120.5V530.5H118.5ZM124.5 524.5H126.5V549.5H124.5ZM127.5 488.5H129.5V519.5H127.5ZM136.5 514.5H138.5V551.5H136.5ZM139.5 523.5H141.5V526.5H139.5ZM151.5 486.5H153.5V493.5H151.5ZM157.5 492.5H159.5V507.5H157.5ZM160.5 494.5H162.5V515.5H160.5ZM163.5 486.5H165.5V519.5H163.5ZM175.5 475.5H177.5V500.5H175.5ZM178.5 462.5H180.5V464.5H178.5ZM181.5 466.5H183.5V468.5H181.5ZM184.5 462.5H186.5V482.5H184.5ZM187.5 440.5H189.5V459.5H187.5ZM190.5 444.5H192.5V454.5H190.5ZM193.5 423.5H195.5V448.5H193.5ZM202.5 407.5H204.5V454.5H202.5ZM208.5 378.5H210.5V413.5H208.5ZM217.5 388.5H219.5V419.5H217.5ZM220.5 404.5H222.5V418.5H220.5ZM229.5 416.5H231.5V429.5H229.5ZM238.5 436.5H240.5V444.5H238.5ZM244.5 429.5H246.5V457.5H244.5ZM247.5 421.5H249.5V445.5H247.5ZM250.5 417.5H252.5V447.5H250.5ZM256.5 439.5H258.5V455.5H256.5ZM262.5 420.5H264.5V433.5H262.5ZM265.5 419.5H267.5V421.5H265.5ZM274.5 431.5H276.5V437.5H274.5ZM280.5 404.5H282.5V407.5H280.5ZM283.5 382.5H285.5V404.5H283.5ZM289.5 383.5H291.5V403.5H289.5ZM292.5 381.5H294.5V391.5H292.5ZM301.5 385.5H303.5V409.5H301.5ZM325.5 369.5H327.5V397.5H325.5ZM328.5 370.5H330.5V387.5H328.5ZM346.5 426.5H348.5V437.5H346.5ZM361.5 438.5H363.5V443.5H361.5ZM379.5 473.5H381.5V478.5H379.5ZM382.5 471.5H384.5V488.5H382.5ZM391.5 478.5H393.5V495.5H391.5ZM397.5 464.5H399.5V481.5H397.5ZM400.5 478.5H402.5V485.5H400.5ZM403.5 495.5H405.5V497.5H403.5ZM409.5 479.5H411.5V494.5H409.5ZM421.5 447.5H423.5V464.5H421.5ZM424.5 438.5H426.5V467.5H424.5ZM427.5 400.5H429.5V433.5H427.5ZM433.5 434.5H435.5V439.5H433.5ZM436.5 431.5H438.5V454.5H436.5ZM439.5 414.5H441.5V423.5H439.5ZM442.5 408.5H444.5V425.5H442.5ZM451.5 405.5H453.5V424.5H451.5ZM463.5 410.5H465.5V417.5H463.5ZM466.5 400.5H468.5V449.5H466.5ZM469.5 392.5H471.5V406.5H469.5ZM478.5 368.5H480.5V394.5H478.5ZM508.5 360.5H510.5V377.5H508.5ZM517.5 361.5H519.5V388.5H517.5ZM526.5 367.5H528.5V371.5H526.5ZM532.5 366.5H534.5V374.5H532.5ZM535.5 374.5H537.5V377.5H535.5ZM541.5 367.5H543.5V373.5H541.5ZM559.5 425.5H561.5V427.5H559.5ZM562.5 412.5H564.5V448.5H562.5ZM568.5 430.5H570.5V434.5H568.5ZM571.5 423.5H573.5V440.5H571.5ZM574.5 445.5H576.5V447.5H574.5ZM580.5 450.5H582.5V492.5H580.5ZM583.5 440.5H585.5V444.5H583.5ZM598.5 418.5H600.5V429.5H598.5ZM610.5 457.5H612.5V460.5H610.5ZM616.5 454.5H618.5V467.5H616.5ZM622.5 449.5H624.5V460.5H622.5ZM634.5 456.5H636.5V519.5H634.5ZM643.5 472.5H645.5V490.5H643.5ZM649.5 473.5H651.5V476.5H649.5Z" fill="#fff" stroke="#00640a" stroke-width="1"/>

<path d="M17 539.6C19.7 541.4 22.3 543.0 25 545C27.3 546.8 29.7 549.4 32 551C34.7 552.8 37.3 553.6 40 555C42.3 556.2 44.7 558.1 47 559C49.7 560.0 52.3 560.1 55 560.6C57.3 561.0 59.7 561.5 62 561.6C64.7 561.7 67.3 561.1 70 561C75.0 560.7 80.0 560.8 85 560.4C88.3 560.1 91.7 559.2 95 559C100.0 558.6 105.0 558.6 110 558.6C113.3 558.6 116.7 559.1 120 559C121.7 558.9 123.3 558.5 125 558C126.7 557.5 128.3 556.6 130 556C133.3 554.9 136.7 554.2 140 553C143.3 551.8 146.7 550.5 150 549C153.3 547.5 156.7 545.7 160 544C163.3 542.3 166.7 540.8 170 539C173.3 537.2 176.7 535.0 180 533C183.3 531.0 186.7 529.3 190 527C193.3 524.7 196.7 522.3 200 519C201.7 517.3 203.3 514.2 205 512C206.7 509.8 208.3 507.8 210 506C211.7 504.2 213.3 502.7 215 501C216.7 499.3 218.3 497.7 220 496C221.7 494.3 223.3 492.7 225 491C226.7 489.3 228.3 487.5 230 486C231.7 484.5 233.3 483.3 235 482C238.3 479.3 241.7 476.7 245 474C248.3 471.3 251.7 468.7 255 466C258.3 463.3 261.7 460.5 265 458C268.3 455.5 271.7 453.2 275 451C278.3 448.8 281.7 447.8 285 445C288.3 442.2 291.7 437.0 295 434C296.7 432.5 298.3 432.5 300 431.5C303.3 429.5 306.7 427.6 310 425C312.3 423.1 314.7 419.7 317 418C319.7 416.0 322.3 415.6 325 414C328.3 412.0 331.7 409.1 335 407C336.7 405.9 338.3 404.9 340 404.4C343.0 403.5 346.0 402.9 349 403C351.0 403.1 353.0 404.2 355 405C356.7 405.7 358.3 406.9 360 407.6C363.3 408.9 366.7 409.9 370 411C373.3 412.1 376.7 413.1 380 414C383.3 414.9 386.7 415.4 390 416.4C393.3 417.4 396.7 418.9 400 420C403.3 421.1 406.7 421.9 410 423C413.3 424.1 416.7 425.4 420 426.4C421.7 426.9 423.3 427.6 425 427.6C427.3 427.6 429.7 426.2 432 426.4C434.7 426.6 437.3 428.5 440 429C443.3 429.7 446.7 429.6 450 430C453.3 430.4 456.7 431.0 460 431.6C462.7 432.0 465.3 432.8 468 433C472.0 433.4 476.0 433.2 480 433.4C482.7 433.5 485.3 434.1 488 434C490.3 433.9 492.7 433.3 495 433C497.3 432.7 499.7 432.7 502 432C504.0 431.4 506.0 430.1 508 429C510.3 427.7 512.7 426.2 515 425C516.7 424.2 518.3 423.8 520 423C521.7 422.2 523.3 421.0 525 420C526.7 419.0 528.3 418.2 530 417C531.7 415.8 533.3 414.2 535 413C536.7 411.8 538.3 411.2 540 410C541.7 408.8 543.3 407.3 545 406C546.7 404.7 548.3 403.3 550 402C551.7 400.7 553.3 399.0 555 398C556.7 397.0 558.3 396.7 560 396C561.7 395.3 563.3 394.5 565 394C566.7 393.5 568.3 393.1 570 393C571.7 392.9 573.3 393.2 575 393.4C576.7 393.6 578.3 393.9 580 394C583.3 394.3 586.7 394.3 590 394.6C593.3 394.9 596.7 395.4 600 396C601.7 396.3 603.3 396.9 605 397.4C606.7 397.9 608.3 398.4 610 399C613.3 400.2 616.7 401.5 620 403C623.3 404.5 626.7 406.3 630 408C633.3 409.7 636.7 411.3 640 413C643.3 414.7 646.7 416.7 650 418.4C651.2 419.0 652.3 419.5 653.5 420" fill="none" stroke="#18189a" stroke-width="1.15"/>
</svg>
<div class="t" style="left:16.5px;top:4.2px;font-size:12.7px;font-weight:bold;">$TYX:$FVX</div>
<div class="t" style="left:88.7px;top:5.2px;font-size:10.9px;">CBOE 30-Year US Treasury Yield/CBOE 5-Year US Treasury Yield</div>
<div class="t" style="left:414px;top:6.5px;font-size:9.3px;letter-spacing:0.5px;">INDX</div>
<div class="t" style="left:570px;top:6px;font-size:10.4px;color:#444;">&copy; StockCharts.com</div>
<div class="t" style="left:16.5px;top:20.2px;font-size:10px;letter-spacing:0.22px;">11-Dec-2015 10:35am</div>
<div class="t" style="left:331px;top:17.7px;font-size:11px;font-weight:bold;">Open</div><div class="t" style="left:363.8px;top:18.9px;font-size:10.4px;-webkit-text-stroke:0.15px #000;">1.82</div><div class="t" style="left:389.3px;top:18.5px;font-size:11px;font-weight:bold;">High</div><div class="t" style="left:417.7px;top:19.1px;font-size:10.4px;-webkit-text-stroke:0.15px #000;">1.82</div><div class="t" style="left:443.4px;top:18.5px;font-size:11px;font-weight:bold;">Low</div><div class="t" style="left:471.4px;top:19.1px;font-size:10.4px;-webkit-text-stroke:0.15px #000;">1.80</div><div class="t" style="left:498px;top:18.5px;font-size:11px;font-weight:bold;">Last</div><div class="t" style="left:526.2px;top:19.1px;font-size:10.4px;-webkit-text-stroke:0.15px #000;">1.81</div><div class="t" style="left:552px;top:18.5px;font-size:11px;font-weight:bold;">Chg</div><div class="t" style="left:577px;top:19.1px;font-size:10.4px;-webkit-text-stroke:0.15px #000;">+0.04</div><div class="t" style="left:606.2px;top:19.1px;font-size:10.4px;-webkit-text-stroke:0.15px #000;">(+2.08%)</div><svg width="9" height="6" style="position:absolute;left:651px;top:21.5px"><path d="M0 4.7L4.2 0.2L8.4 4.7Z" fill="#1b6b1b"/></svg>
<div class="t mono" style="left:31.5px;top:32.1px;">$TYX:$FVX (Daily) 1.81</div>
<div style="position:absolute;left:19px;top:45.8px;width:9px;height:2.5px;background:#00008b"></div><div class="t lg" style="left:29px;top:42.5px;color:#00008b;">MA(50) 1.93</div>
<div style="position:absolute;left:19px;top:56.8px;width:9px;height:2.5px;background:#d2143a"></div><div class="t lg" style="left:29px;top:53.5px;color:#d2143a;">MA(200) 1.89</div>
<div style="position:absolute;left:19px;top:68.3px;width:8.2px;height:2px;background:repeating-linear-gradient(90deg,#00008b 0 1.8px,transparent 1.8px 3.05px)"></div><div class="t lg" style="left:29.5px;top:64.5px;color:#00008b;">EMA(50) 1.87</div>
<div style="position:absolute;left:19px;top:79.3px;width:8.2px;height:2px;background:repeating-linear-gradient(90deg,#ff6600 0 1.8px,transparent 1.8px 3.05px)"></div><div class="t lg" style="left:29.5px;top:75.5px;color:#ff6600;">EMA(20) 1.81</div>
<svg style="position:absolute;left:19px;top:85.8px" width="10" height="8"><path d="M0.5 7.5V3.5h2.5v4zM3.2 7.5V0.5h2.6v7zM6 7.5V2.5h2.5v5z" fill="#999" stroke="#3a3a3a" stroke-width="1"/></svg><div class="t lg" style="left:30px;top:86.0px;color:#444;">Volume undef</div>
<div style="position:absolute;left:19px;top:98.8px;width:9px;height:2.5px;background:#8a2be2"></div><div class="t lg" style="left:29px;top:96.0px;color:#8a2be2;">EMA(40) undef</div>
<svg style="position:absolute;left:19px;top:32px" width="11" height="9"><path d="M1.8 0v8M5 3v5M8.3 0v8" stroke="#000" stroke-width="1"/><rect x="0.8" y="1.5" width="2" height="5" fill="#fff" stroke="#000" stroke-width="1.1"/><rect x="3.3" y="3" width="3.2" height="4" fill="#000"/><rect x="7.3" y="1.5" width="2" height="5" fill="#fff" stroke="#000" stroke-width="1.1"/></svg>
<svg style="position:absolute;left:19px;top:329px" width="11" height="9"><path d="M1.8 0v8M5 3v5M8.3 0v8" stroke="#00640a" stroke-width="1"/><rect x="0.8" y="1.5" width="2" height="5" fill="#fff" stroke="#00640a" stroke-width="1.1"/><rect x="3.3" y="3" width="3.2" height="4" fill="#00640a"/><rect x="7.3" y="1.5" width="2" height="5" fill="#fff" stroke="#00640a" stroke-width="1.1"/></svg>
<div class="t mono" style="left:31.5px;top:329.1px;">$TYX-$FVX 13.01</div>
<div style="position:absolute;left:19px;top:342px;width:9px;height:2.5px;background:#00008b"></div><div class="t lg" style="left:29px;top:339.7px;color:#00008b;">MA(50) 14.14</div>
<div class="t ax" style="left:663px;top:300.4px;">1.60</div>
<div class="t ax" style="left:663px;top:280.0px;">1.65</div>
<div class="t ax" style="left:663px;top:259.7px;">1.70</div>
<div class="t ax" style="left:663px;top:239.3px;">1.75</div>
<div class="t ax" style="left:663px;top:219.0px;">1.80</div>
<div class="t ax" style="left:663px;top:198.7px;">1.85</div>
<div class="t ax" style="left:663px;top:178.3px;">1.90</div>
<div class="t ax" style="left:663px;top:158.0px;">1.95</div>
<div class="t ax" style="left:663px;top:137.7px;">2.00</div>
<div class="t ax" style="left:663px;top:117.3px;">2.05</div>
<div class="t ax" style="left:663px;top:97.0px;">2.10</div>
<div class="t ax" style="left:663px;top:76.7px;">2.15</div>
<div class="t ax" style="left:663px;top:56.3px;">2.20</div>
<div class="t ax" style="left:663px;top:36.0px;">2.25</div>
<div class="t ax" style="left:663px;top:599.1px;">10.0</div>
<div class="t ax" style="left:663px;top:577.1px;">10.5</div>
<div class="t ax" style="left:663px;top:555.0px;">11.0</div>
<div class="t ax" style="left:663px;top:533.0px;">11.5</div>
<div class="t ax" style="left:663px;top:510.9px;">12.0</div>
<div class="t ax" style="left:663px;top:488.9px;">12.5</div>
<div class="t ax" style="left:663px;top:466.9px;">13.0</div>
<div class="t ax" style="left:663px;top:444.8px;">13.5</div>
<div class="t ax" style="left:663px;top:422.8px;">14.0</div>
<div class="t ax" style="left:663px;top:400.7px;">14.5</div>
<div class="t ax" style="left:663px;top:378.7px;">15.0</div>
<div class="t ax" style="left:663px;top:356.7px;">15.5</div>
<div class="t ax" style="left:663px;top:334.6px;">16.0</div>
<div class="t mo" style="left:37.0px;top:315.3px;width:40px;text-align:center;">Mar</div>
<div class="t mo" style="left:37.0px;top:611.6px;width:40px;text-align:center;">Mar</div>
<div class="t mo" style="left:103.0px;top:315.3px;width:40px;text-align:center;">Apr</div>
<div class="t mo" style="left:103.0px;top:611.6px;width:40px;text-align:center;">Apr</div>
<div class="t mo" style="left:166.0px;top:315.3px;width:40px;text-align:center;">May</div>
<div class="t mo" style="left:166.0px;top:611.6px;width:40px;text-align:center;">May</div>
<div class="t mo" style="left:226.0px;top:315.3px;width:40px;text-align:center;">Jun</div>
<div class="t mo" style="left:226.0px;top:611.6px;width:40px;text-align:center;">Jun</div>
<div class="t mo" style="left:292.0px;top:315.3px;width:40px;text-align:center;">Jul</div>
<div class="t mo" style="left:292.0px;top:611.6px;width:40px;text-align:center;">Jul</div>
<div class="t mo" style="left:358.0px;top:315.3px;width:40px;text-align:center;">Aug</div>
<div class="t mo" style="left:358.0px;top:611.6px;width:40px;text-align:center;">Aug</div>
<div class="t mo" style="left:421.0px;top:315.3px;width:40px;text-align:center;">Sep</div>
<div class="t mo" style="left:421.0px;top:611.6px;width:40px;text-align:center;">Sep</div>
<div class="t mo" style="left:484.0px;top:315.3px;width:40px;text-align:center;">Oct</div>
<div class="t mo" style="left:484.0px;top:611.6px;width:40px;text-align:center;">Oct</div>
<div class="t mo" style="left:550.0px;top:315.3px;width:40px;text-align:center;">Nov</div>
<div class="t mo" style="left:550.0px;top:611.6px;width:40px;text-align:center;">Nov</div>
<div class="t mo" style="left:610.0px;top:315.3px;width:40px;text-align:center;">Dec</div>
<div class="t mo" style="left:610.0px;top:611.6px;width:40px;text-align:center;">Dec</div>
</body></html>
